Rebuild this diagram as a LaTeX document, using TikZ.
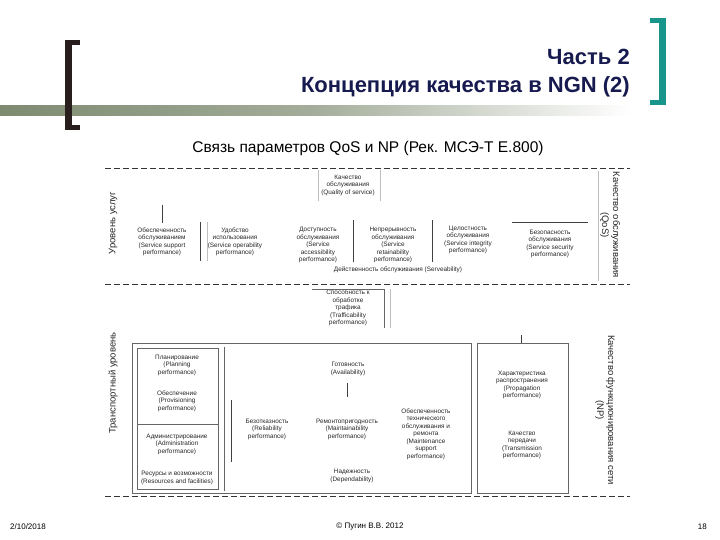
\documentclass[tikz,border=0pt]{standalone}
\usepackage{fontspec}
\setmainfont{Liberation Sans}
\usepackage{xcolor}
\usepackage{tikz}
\usetikzlibrary{positioning,calc}
\definecolor{navy}{RGB}{22,26,78}
\definecolor{brk}{RGB}{40,30,30}
\definecolor{tl}{RGB}{24,150,140}
\definecolor{barg}{RGB}{125,138,112}

\begin{document}
\begin{tikzpicture}[
    x=1pt, y=-1pt,
    t1/.style={font=\fontsize{6.4}{7.5}\selectfont, align=center, inner sep=0pt, text=black!85},
    t2/.style={font=\fontsize{9.5}{11}\selectfont, align=center, inner sep=0pt, text=black!85},
    t3/.style={font=\fontsize{22}{26}\selectfont\bfseries, text=navy, inner sep=0pt, anchor=base east},
    ft/.style={font=\fontsize{8}{9}\selectfont, inner sep=0pt},
    ln/.style={draw=black!75, line width=0.6pt},
    fr/.style={draw=black!60, line width=0.7pt},
    lt/.style={draw=black!25, line width=0.5pt},
    dsh/.style={draw=black!80, line width=0.9pt, dash pattern=on 6pt off 3pt}
]
    \useasboundingbox (0,0) rectangle (720,540);

    \shade [left color=barg, right color=white, middle color=barg!70] (0,106) rectangle (630,116);
    \fill [brk] (65,40) rectangle (72,130);
    \fill [brk] (65,40) rectangle (80,45);
    \fill [brk] (65,125) rectangle (80,130);
    \fill [tl] (659,18) rectangle (666,105);
    \fill [tl] (650,18) rectangle (666,23);
    \fill [tl] (650,100) rectangle (666,105);

    \node [t3] (h1) at (630,65) {Часть 2};
    \node [t3] (h2) at (630,93) {Концепция качества в NGN (2)};
    \node [font=\fontsize{15.5}{18}\selectfont, inner sep=0pt] (sub) at (368,148) {Связь параметров QoS и NP (Рек. МСЭ-Т Е.800)};

    \draw [dsh] (105,168) -- (630,168);
    \draw [dsh] (105,284) -- (630,284);
    \draw [dsh] (105,496) -- (630,496);

    \node [t2, rotate=90] (lv1) at (113,223) {Уровень услуг};
    \node [t2, rotate=90] (lv2) at (113,383) {Транспортный уровень};
    \node [t2, rotate=-90] (q1) at (610,225) {Качество обслуживания\\(QoS)};
    \node [t2, rotate=-90] (q2) at (605,410) {Качество функционирования сети\\(NP)};

    \node [t1] (n1) at (348,185) {Качество\\обслуживания\\(Quality of service)};
    \node [t1] (n2) at (162,242) {Обеспеченность\\обслуживанием\\(Service support\\performance)};
    \node [t1] (n3) at (235,242) {Удобство\\использования\\(Service operability\\performance)};
    \node [t1] (n4) at (318,245) {Доступность\\обслуживания\\(Service\\accessibility\\performance)};
    \node [t1] (n5) at (393,245) {Непрерывность\\обслуживания\\(Service\\retainability\\performance)};
    \node [t1] (n6) at (468,240) {Целостность\\обслуживания\\(Service integrity\\performance)};
    \node [t1] (n7) at (550,244) {Безопасность\\обслуживания\\(Service security\\performance)};
    \node [t1] (n8) at (398,270) {Действенность обслуживания (Serveability)};

    \draw [lt] (318,170) -- (318,201);
    \draw [lt] (380,170) -- (380,201);
    \draw [ln] (162,205) -- (162,223);
    \draw [ln] (200,222) -- (200,261);
    \draw [lt] (207,222) -- (207,261);
    \draw [ln] (353,220) -- (353,262);
    \draw [ln] (432,220) -- (432,262);
    \draw [ln] (512,222) -- (588,222);
    \draw [lt] (598,171) -- (598,281);

    \node [t1] (m1) at (348,308) {Способность к\\обработке\\трафика\\(Trafficability\\performance)};
    \draw [fr] (312,289) -- (384,289) -- (384,328);
    \draw [lt] (390,289) -- (390,328);

    \draw [fr] (132,343) rectangle (471,493);
    \draw [fr] (137,348) rectangle (218,489);
    \draw [fr] (224,347) -- (224,491);
    \draw [fr] (137,424) -- (218,424);
    \draw [fr] (477,343) rectangle (568,493);
    \draw [ln] (521,335) -- (521,343);

    \node [t1] (m2) at (177,365) {Планирование\\(Planning\\performance)};
    \node [t1] (m3) at (177,401) {Обеспечение\\(Provisioning\\performance)};
    \node [t1] (m4) at (177,444) {Администрирование\\(Administration\\performance)};
    \node [t1] (m5) at (177,478) {Ресурсы и возможности\\(Resources and facilities)};

    \node [t1] (m6) at (348,369) {Готовность\\(Availability)};
    \draw [ln] (347,383) -- (347,397);
    \draw [ln] (231,400) -- (231,462);
    \node [t1] (m7) at (267,429) {Безотказность\\(Reliability\\performance)};
    \node [t1] (m8) at (347,429) {Ремонтопригодность\\(Maintainability\\performance)};
    \node [t1] (m9) at (426,434) {Обеспеченность\\технического\\обслуживания и\\ремонта\\(Maintenance\\support\\performance)};
    \node [t1] (m10) at (352,476) {Надежность\\(Dependability)};

    \node [t1] (m11) at (522,385) {Характеристика\\распространения\\(Propagation\\performance)};
    \node [t1] (m12) at (522,445) {Качество\\передачи\\(Transmission\\performance)};

    \node [ft, anchor=west] (f1) at (10,527) {2/10/2018};
    \node [ft] (f2) at (370,527) {© Пугин В.В. 2012};
    \node [ft, anchor=east] (f3) at (707,527) {18};
\end{tikzpicture}
\end{document}
